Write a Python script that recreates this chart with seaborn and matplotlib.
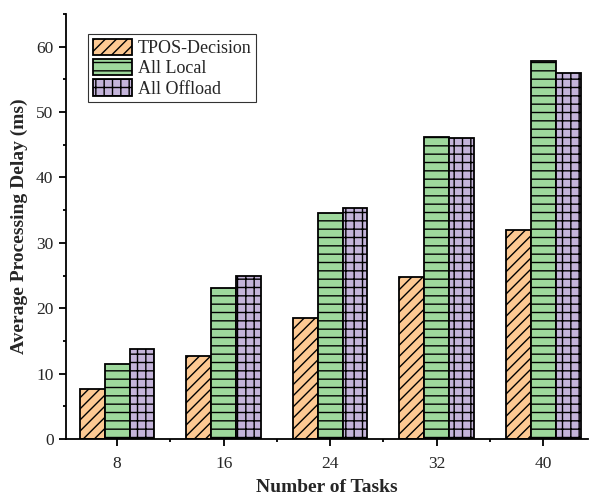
import matplotlib
matplotlib.use("Agg")
import matplotlib.pyplot as plt
import seaborn as sns
import pandas as pd
from matplotlib.patches import Patch
from matplotlib.ticker import MultipleLocator, FixedLocator

tasks = ["8", "16", "24", "32", "40"]
series = ["TPOS-Decision", "All Local", "All Offload"]
tpos = [7.6, 12.7, 18.5, 24.8, 32.0]
local = [11.5, 23.1, 34.6, 46.2, 57.8]
offload = [13.8, 25.0, 35.4, 46.1, 55.9]

colors = ["#FDC993", "#9ED89C", "#C4B4DA"]
hatches = ["///", "--", "++"]

rows = []
for name, vals in zip(series, [tpos, local, offload]):
    for t, v in zip(tasks, vals):
        rows.append({"Tasks": t, "Method": name, "Delay": v})
df = pd.DataFrame(rows)

sns.set_style("ticks")
plt.rcParams["font.family"] = ["Liberation Serif", "DejaVu Serif"]
plt.rcParams["hatch.linewidth"] = 1.0

fig = plt.figure(figsize=(5.93, 4.98), dpi=100)
ax = fig.add_axes([66 / 593, 1 - 439 / 498, (588 - 66) / 593, (439 - 14) / 498])

sns.barplot(data=df, x="Tasks", y="Delay", hue="Method", order=tasks,
            hue_order=series, palette=colors, width=0.7, saturation=1,
            edgecolor="black", linewidth=1.3, ax=ax, legend=False)

for cont, h in zip(ax.containers, hatches):
    for p in cont.patches:
        p.set_hatch(h)
        p.set_edgecolor("black")

handles = [Patch(facecolor=c, edgecolor="black", hatch=h, linewidth=1.3, label=s)
           for c, h, s in zip(colors, hatches, series)]
leg = ax.legend(handles=handles, loc="upper left",
                bbox_to_anchor=((88 - 66) / 522, (439 - 34) / 425),
                fontsize=13, frameon=True, fancybox=False, edgecolor="black",
                handlelength=2.2, handleheight=1.0, handletextpad=0.3,
                labelspacing=0.12, borderpad=0.25, borderaxespad=0)
leg.get_frame().set_linewidth(0.8)

ax.set_xlim(-0.48, 4.42)
ax.set_ylim(0, 65)
ax.yaxis.set_major_locator(MultipleLocator(10))
ax.yaxis.set_minor_locator(MultipleLocator(5))
ax.xaxis.set_minor_locator(FixedLocator([0.5, 1.5, 2.5, 3.5]))
ax.tick_params(axis="both", which="major", direction="out", length=5, width=1.3,
               labelsize=12.5, color="black")
ax.tick_params(axis="both", which="minor", direction="out", length=2.5, width=1.3,
               color="black")
ax.tick_params(axis="x", which="major", pad=7)
ax.tick_params(axis="y", which="major", pad=4)

for s in ["left", "bottom"]:
    ax.spines[s].set_linewidth(1.3)
    ax.spines[s].set_color("black")
sns.despine(ax=ax)

ax.set_xlabel("Number of Tasks", fontsize=14, fontweight="bold", labelpad=5)
ax.set_ylabel("Average Processing Delay (ms)", fontsize=14, fontweight="bold", labelpad=6)

fig.savefig("out.png", dpi=100)
